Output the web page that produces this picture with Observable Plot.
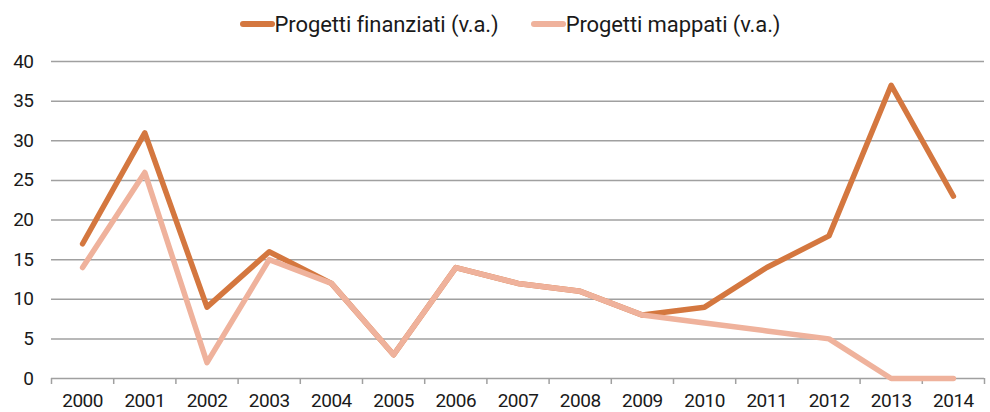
<!DOCTYPE html>
<html>
<head>
<meta charset="utf-8">
<script src="https://cdn.jsdelivr.net/npm/d3@7"></script>
<script src="https://cdn.jsdelivr.net/npm/@observablehq/plot@0.6"></script>
<style>
  html, body { margin: 0; padding: 0; background: #fff; }
  body { width: 990px; height: 412px; overflow: hidden; font-family: Roboto, "Noto Sans", sans-serif; color: #1a1a1a; }
  #legend { height: 44px; display: flex; align-items: center; justify-content: center; font-size: 22px; padding-left: 30px; padding-top: 4px; box-sizing: border-box; letter-spacing: -0.1px; }
  .item { display: flex; align-items: center; margin: 0 16px; }
  .sw { width: 35px; height: 6px; border-radius: 3px; margin-right: 0px; }
</style>
</head>
<body>
<div id="legend"></div>
<div id="chart"></div>
<script>
const years = [2000,2001,2002,2003,2004,2005,2006,2007,2008,2009,2010,2011,2012,2013,2014];
const finanziati = [17,31,9,16,12,3,14,12,11,8,9,14,18,37,23];
const mappati = [14,26,2,15,12,3,14,12,11,8,7,6,5,0,0];
const seriesNames = ["Progetti finanziati (v.a.)", "Progetti mappati (v.a.)"];
const seriesColors = ["#D4773F", "#EFB29C"];
const yTicks = [0,5,10,15,20,25,30,35,40];

const data = [];
years.forEach((yr, i) => data.push({year: yr, value: finanziati[i], series: seriesNames[0]}));
years.forEach((yr, i) => data.push({year: yr, value: mappati[i], series: seriesNames[1]}));
const boundaries = years.map(y => y - 0.5).concat([years[years.length - 1] + 0.5]);

const legend = document.getElementById("legend");
seriesNames.forEach((n, i) => {
  const it = document.createElement("div");
  it.className = "item";
  it.innerHTML = `<span class="sw" style="background:${seriesColors[i]}"></span><span>${n}</span>`;
  legend.appendChild(it);
});

const chart = Plot.plot({
  width: 990,
  height: 368,
  marginLeft: 51,
  marginRight: 6,
  marginTop: 17,
  marginBottom: 34,
  style: {fontFamily: "Roboto, sans-serif", fontSize: "19px", color: "#1a1a1a", background: "#fff", letterSpacing: "-0.5px"},
  x: {type: "linear", domain: [years[0] - 0.5, years[years.length - 1] + 0.5]},
  y: {domain: [0, 40]},
  color: {domain: seriesNames, range: seriesColors},
  marks: [
    Plot.gridY(yTicks, {stroke: "#A0A0A0", strokeOpacity: 1, strokeWidth: 1.5}),
    Plot.axisY(yTicks, {tickSize: 0, tickPadding: 18, label: null, fill: "#1a1a1a", fontSize: 19}),
    Plot.axisX(boundaries, {tickSize: 6, tickFormat: () => "", label: null, stroke: "#A0A0A0", strokeWidth: 1.5}),
    Plot.axisX(years, {tickSize: 0, tickPadding: 15, tickFormat: d => String(d), label: null, fill: "#1a1a1a", fontSize: 19}),
    Plot.line(data, {x: "year", y: "value", z: "series", stroke: "series", strokeWidth: 5.5, strokeLinecap: "round", strokeLinejoin: "round"})
  ]
});
document.getElementById("chart").appendChild(chart);
</script>
</body>
</html>
